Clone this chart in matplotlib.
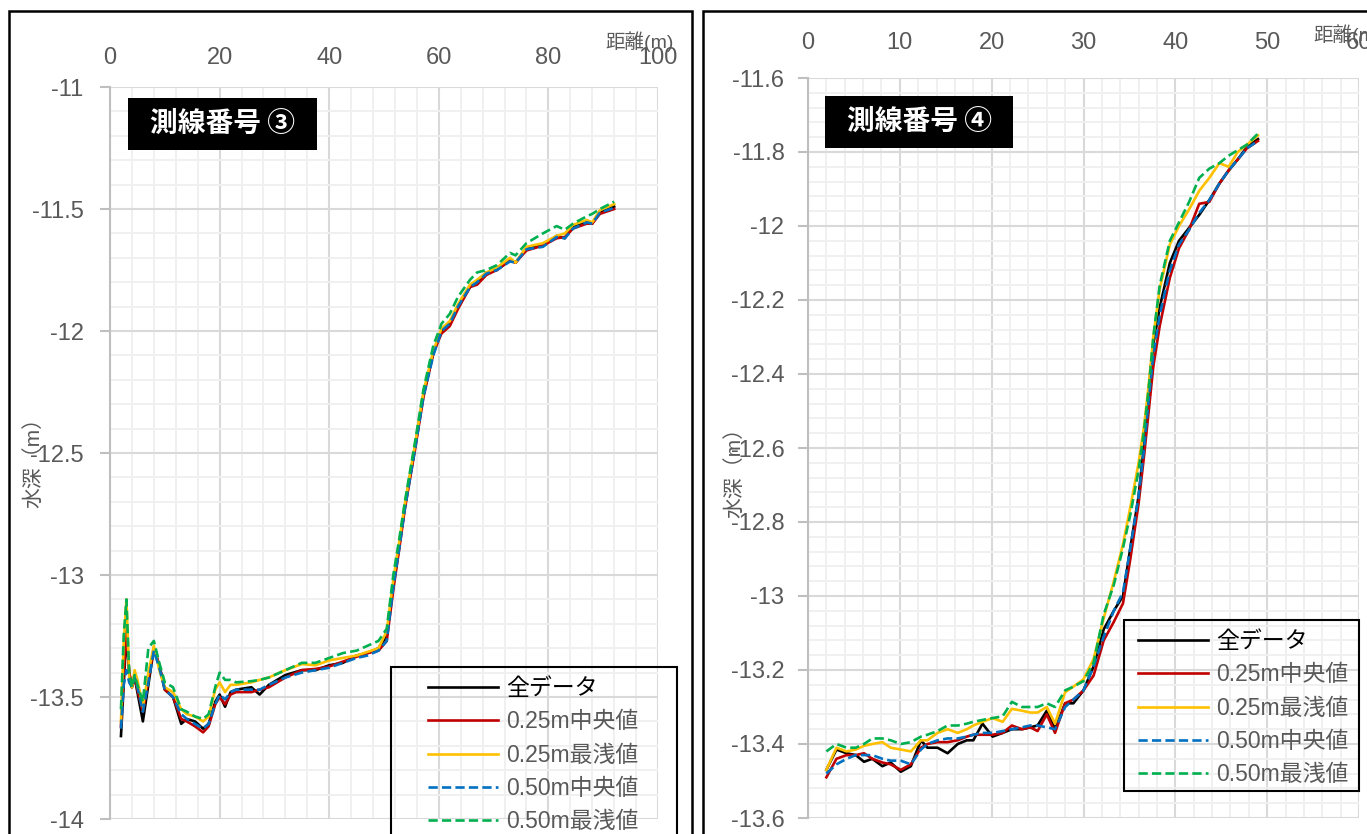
import matplotlib
matplotlib.use("Agg")
import matplotlib.pyplot as plt
from matplotlib.patches import Rectangle
from matplotlib.ticker import MultipleLocator, FuncFormatter

plt.rcParams["font.family"] = ["Liberation Sans", "Noto Sans CJK JP", "DejaVu Sans"]

# ---------------- data: survey line 3 ----------------
dist_3 = [2, 2.5, 3, 3.5, 4, 4.5, 5, 6, 7, 8, 9, 10, 11.5, 13, 14, 15.5, 17, 18, 19.2,
          20, 21, 22, 23, 25.8, 27.3, 29, 32, 35, 37.5, 40, 42.5, 45, 47, 49,
          50.5, 51.7, 52.8, 53.8, 55.7, 57.2, 59, 60.5, 62, 63.5, 65.7, 67, 68.7, 70.6,
          73, 74, 76, 79, 81.5, 83, 84.5, 87, 88, 89.4, 92]

all_3 = [-13.66, -13.45, -13.24, -13.40, -13.46, -13.42, -13.48, -13.60, -13.45, -13.30,
         -13.37, -13.47, -13.50, -13.61, -13.59, -13.60, -13.63, -13.61, -13.52,
         -13.49, -13.54, -13.48, -13.47, -13.46, -13.49, -13.45, -13.41, -13.39, -13.39,
         -13.37, -13.36, -13.33, -13.32, -13.30,
         -13.25, -13.04, -12.88, -12.72, -12.47, -12.26, -12.09, -12.00, -11.97, -11.90,
         -11.82, -11.80, -11.76, -11.75, -11.71, -11.72, -11.66, -11.65, -11.61, -11.62,
         -11.57, -11.55, -11.56, -11.51, -11.49]

med25_3 = [-13.62, -13.40, -13.22, -13.40, -13.46, -13.41, -13.47, -13.56, -13.43, -13.30,
           -13.37, -13.47, -13.50, -13.59, -13.60, -13.62, -13.645, -13.62, -13.53,
           -13.50, -13.53, -13.49, -13.48, -13.48, -13.47, -13.46, -13.42, -13.39, -13.385,
           -13.375, -13.355, -13.335, -13.32, -13.31,
           -13.27, -13.06, -12.89, -12.73, -12.48, -12.27, -12.09, -12.01, -11.98, -11.91,
           -11.82, -11.81, -11.77, -11.75, -11.71, -11.72, -11.67, -11.65, -11.62, -11.615,
           -11.58, -11.56, -11.56, -11.52, -11.50]

min25_3 = [-13.60, -13.28, -13.10, -13.42, -13.46, -13.39, -13.43, -13.54, -13.40, -13.29,
           -13.39, -13.46, -13.48, -13.55, -13.57, -13.58, -13.60, -13.58, -13.47,
           -13.44, -13.48, -13.45, -13.45, -13.44, -13.43, -13.42, -13.39, -13.365, -13.37,
           -13.35, -13.34, -13.33, -13.315, -13.30,
           -13.23, -13.02, -12.86, -12.71, -12.46, -12.25, -12.08, -11.99, -11.96, -11.89,
           -11.81, -11.79, -11.76, -11.74, -11.70, -11.72, -11.655, -11.64, -11.61, -11.60,
           -11.565, -11.545, -11.555, -11.505, -11.48]

med50_3 = [-13.63, -13.45, -13.39, -13.44, -13.46, -13.42, -13.46, -13.56, -13.44, -13.31,
           -13.38, -13.47, -13.50, -13.57, -13.59, -13.61, -13.63, -13.61, -13.53,
           -13.49, -13.51, -13.48, -13.47, -13.47, -13.47, -13.45, -13.42, -13.40, -13.39,
           -13.38, -13.36, -13.34, -13.33, -13.31,
           -13.27, -13.05, -12.89, -12.73, -12.48, -12.27, -12.10, -12.00, -11.97, -11.90,
           -11.82, -11.80, -11.765, -11.75, -11.715, -11.72, -11.665, -11.655, -11.615, -11.62,
           -11.58, -11.555, -11.56, -11.515, -11.495]

min50_3 = [-13.55, -13.25, -13.10, -13.40, -13.46, -13.41, -13.45, -13.52, -13.30, -13.27,
           -13.36, -13.44, -13.46, -13.55, -13.56, -13.58, -13.59, -13.57, -13.46,
           -13.40, -13.43, -13.43, -13.44, -13.435, -13.43, -13.42, -13.39, -13.36, -13.36,
           -13.34, -13.32, -13.31, -13.29, -13.27,
           -13.22, -13.00, -12.85, -12.70, -12.45, -12.24, -12.06, -11.97, -11.93, -11.86,
           -11.79, -11.76, -11.75, -11.73, -11.68, -11.69, -11.64, -11.60, -11.57, -11.585,
           -11.56, -11.53, -11.52, -11.50, -11.47]

# ---------------- data: survey line 4 ----------------
dist_4 = [2, 3.1, 4.2, 5.2, 6.1, 7.0, 8.1, 9.0, 10.1, 11.2, 12.3, 13.0, 14.1, 15.2, 16.3,
          17.3, 18.0, 19.0, 20.1, 21.2, 22.2, 23.3, 24.2, 25.0, 26.0, 26.9, 28.0, 28.9,
          30.0, 31.1, 32.2, 33.3, 34.3, 35.1, 36.0, 36.6, 37.1, 37.6, 38.3, 39.4, 40.4,
          41.5, 42.6, 43.7, 44.8, 45.8, 46.8, 47.8, 49.0]

all_4 = [-13.47, -13.415, -13.425, -13.43, -13.448, -13.44, -13.46, -13.45, -13.475, -13.46,
         -13.39, -13.41, -13.41, -13.425, -13.40, -13.39, -13.39, -13.345, -13.38, -13.37,
         -13.36, -13.36, -13.355, -13.35, -13.31, -13.36, -13.29, -13.29, -13.255, -13.19,
         -13.09, -13.04, -13.00, -12.87, -12.73, -12.59, -12.44, -12.32, -12.22, -12.10,
         -12.04, -12.005, -11.97, -11.93, -11.885, -11.85, -11.82, -11.786, -11.765]

med25_4 = [-13.49, -13.44, -13.43, -13.43, -13.425, -13.44, -13.45, -13.455, -13.47, -13.455,
           -13.41, -13.40, -13.395, -13.395, -13.39, -13.38, -13.375, -13.375, -13.375, -13.37,
           -13.35, -13.36, -13.355, -13.365, -13.32, -13.37, -13.29, -13.28, -13.255, -13.215,
           -13.12, -13.07, -13.02, -12.90, -12.75, -12.62, -12.50, -12.38, -12.27, -12.14,
           -12.06, -12.01, -11.94, -11.935, -11.885, -11.85, -11.82, -11.79, -11.77]

min25_4 = [-13.47, -13.41, -13.42, -13.415, -13.405, -13.40, -13.395, -13.41, -13.415, -13.42,
           -13.39, -13.39, -13.37, -13.36, -13.37, -13.36, -13.35, -13.34, -13.33, -13.34,
           -13.305, -13.31, -13.315, -13.315, -13.30, -13.345, -13.26, -13.245, -13.225, -13.17,
           -13.06, -12.96, -12.86, -12.76, -12.64, -12.54, -12.43, -12.30, -12.17, -12.05,
           -12.00, -11.955, -11.905, -11.87, -11.83, -11.84, -11.80, -11.78, -11.755]

med50_4 = [-13.48, -13.455, -13.44, -13.43, -13.43, -13.43, -13.44, -13.445, -13.445, -13.455,
           -13.415, -13.40, -13.39, -13.385, -13.385, -13.38, -13.375, -13.37, -13.37, -13.365,
           -13.36, -13.355, -13.35, -13.35, -13.355, -13.36, -13.30, -13.28, -13.255, -13.19,
           -13.11, -13.04, -12.99, -12.87, -12.73, -12.60, -12.47, -12.35, -12.24, -12.12,
           -12.05, -12.01, -11.965, -11.93, -11.885, -11.85, -11.82, -11.79, -11.77]

min50_4 = [-13.42, -13.40, -13.41, -13.41, -13.40, -13.385, -13.385, -13.39, -13.40, -13.395,
           -13.38, -13.375, -13.365, -13.35, -13.35, -13.345, -13.34, -13.335, -13.33, -13.325,
           -13.286, -13.30, -13.30, -13.30, -13.29, -13.30, -13.255, -13.245, -13.23, -13.18,
           -13.05, -12.97, -12.87, -12.78, -12.66, -12.55, -12.44, -12.30, -12.16, -12.04,
           -11.99, -11.935, -11.87, -11.845, -11.83, -11.81, -11.795, -11.78, -11.75]

labels = ["全データ", "0.25m中央値", "0.25m最浅値", "0.50m中央値", "0.50m最浅値"]
colors = ["#000000", "#C00000", "#FFC000", "#0070C0", "#00B050"]
dashes = [None, None, None, (0, (3.5, 1.6)), (0, (3.5, 1.6))]

W, H = 1367, 834
fig = plt.figure(figsize=(W / 100, H / 100), dpi=100)


def fx(px):
    return px / W


def fy(py):
    return 1 - py / H


def fmt(v, _pos):
    return f"{round(v, 3):g}"


TICK_GRAY = "#595959"


def setup_axes(ax, xmax, xmaj, xmin_, ylo, yhi, ymaj, ymin_, xpad, ypad):
    ax.set_xlim(0, xmax)
    ax.set_ylim(ylo, yhi)
    ax.xaxis.set_major_locator(MultipleLocator(xmaj))
    ax.xaxis.set_minor_locator(MultipleLocator(xmin_))
    ax.yaxis.set_major_locator(MultipleLocator(ymaj))
    ax.yaxis.set_minor_locator(MultipleLocator(ymin_))
    ax.xaxis.set_major_formatter(FuncFormatter(fmt))
    ax.yaxis.set_major_formatter(FuncFormatter(fmt))
    ax.xaxis.tick_top()
    ax.tick_params(axis="x", which="both", length=0, pad=xpad,
                   labelsize=17, labelcolor=TICK_GRAY)
    ax.tick_params(axis="y", which="major", length=7, width=1.5, color="#bfbfbf",
                   pad=ypad, labelsize=17, labelcolor=TICK_GRAY)
    ax.tick_params(axis="y", which="minor", length=0)
    ax.grid(which="major", color="#d9d9d9", lw=1.5)
    ax.grid(which="minor", color="#f0f0f0", lw=1.4)
    ax.set_axisbelow(True)
    for s in ("top", "right", "bottom"):
        ax.spines[s].set_visible(False)
    ax.spines["left"].set_color("#bfbfbf")
    ax.spines["left"].set_linewidth(1.5)
    ax.patch.set_alpha(0)


def draw_series(ax, x, series):
    for y, lab, c, ls in zip(series, labels, colors, dashes):
        kw = dict(color=c, lw=1.9, label=lab, solid_joinstyle="round")
        if ls is not None:
            kw["linestyle"] = ls
        ax.plot(x, y, **kw)


def add_legend(ax, left_px, top_px):
    leg = ax.legend(loc="upper left", bbox_to_anchor=(fx(left_px), fy(top_px)),
                    bbox_transform=fig.transFigure, frameon=False, borderpad=0,
                    borderaxespad=0, fontsize=16.5, handlelength=3.05,
                    handletextpad=0.35, labelspacing=0.45)
    for i, t in enumerate(leg.get_texts()):
        t.set_color("#000000" if i == 0 else TICK_GRAY)
    return leg


def frame(x0, y0, x1, y1, lw=1.6):
    fig.add_artist(Rectangle((fx(x0), fy(y1)), (x1 - x0) / W, (y1 - y0) / H,
                             transform=fig.transFigure, fill=False, ec="black",
                             lw=lw, clip_on=False))


def title_box(x0, y0, x1, y1, text):
    fig.add_artist(Rectangle((fx(x0), fy(y1)), (x1 - x0) / W, (y1 - y0) / H,
                             transform=fig.transFigure, fc="black", ec="none"))
    fig.text(fx((x0 + x1) / 2), fy((y0 + y1) / 2), text, color="white",
             fontsize=20, fontweight="bold", ha="center", va="center",
             family=["Noto Sans CJK JP", "DejaVu Sans"])


# outer panel frames
frame(9, 11, 692, 900, lw=1.8)
frame(703, 11, 1450, 900, lw=1.8)

# ---- panel: line 3 ----
ax3 = fig.add_axes([fx(110), fy(819), (658 - 110) / W, (819 - 87) / H])
setup_axes(ax3, 100, 20, 4, -14, -11, 0.5, 0.1, xpad=13, ypad=12)
draw_series(ax3, dist_3, [all_3, med25_3, min25_3, med50_3, min50_3])
fig.text(fx(640), fy(42), "距離(m)", fontsize=14, color=TICK_GRAY,
         ha="center", va="center")
fig.text(fx(33), fy(457), "水深（m）", fontsize=15, color=TICK_GRAY,
         ha="center", va="center", rotation=90)
title_box(128, 98, 317, 150, "測線番号 ③")
frame(391, 667, 677, 900, lw=1.5)
add_legend(ax3, 428, 677)

# ---- panel: line 4 ----
ax4 = fig.add_axes([fx(808), fy(818), (1359 - 808) / W, (818 - 78) / H])
setup_axes(ax4, 60, 10, 2, -13.6, -11.6, 0.2, 0.04, xpad=17, ypad=10)
draw_series(ax4, dist_4, [all_4, med25_4, min25_4, med50_4, min50_4])
fig.text(fx(1313), fy(35), "距離(m)", fontsize=14, color=TICK_GRAY,
         ha="left", va="center")
fig.text(fx(734), fy(467), "水深（m）", fontsize=15, color=TICK_GRAY,
         ha="center", va="center", rotation=90)
title_box(825, 96, 1013, 148, "測線番号 ④")
frame(1124, 620, 1359, 791, lw=1.5)
add_legend(ax4, 1138, 630)

fig.savefig("out.png", dpi=100, facecolor="white")
